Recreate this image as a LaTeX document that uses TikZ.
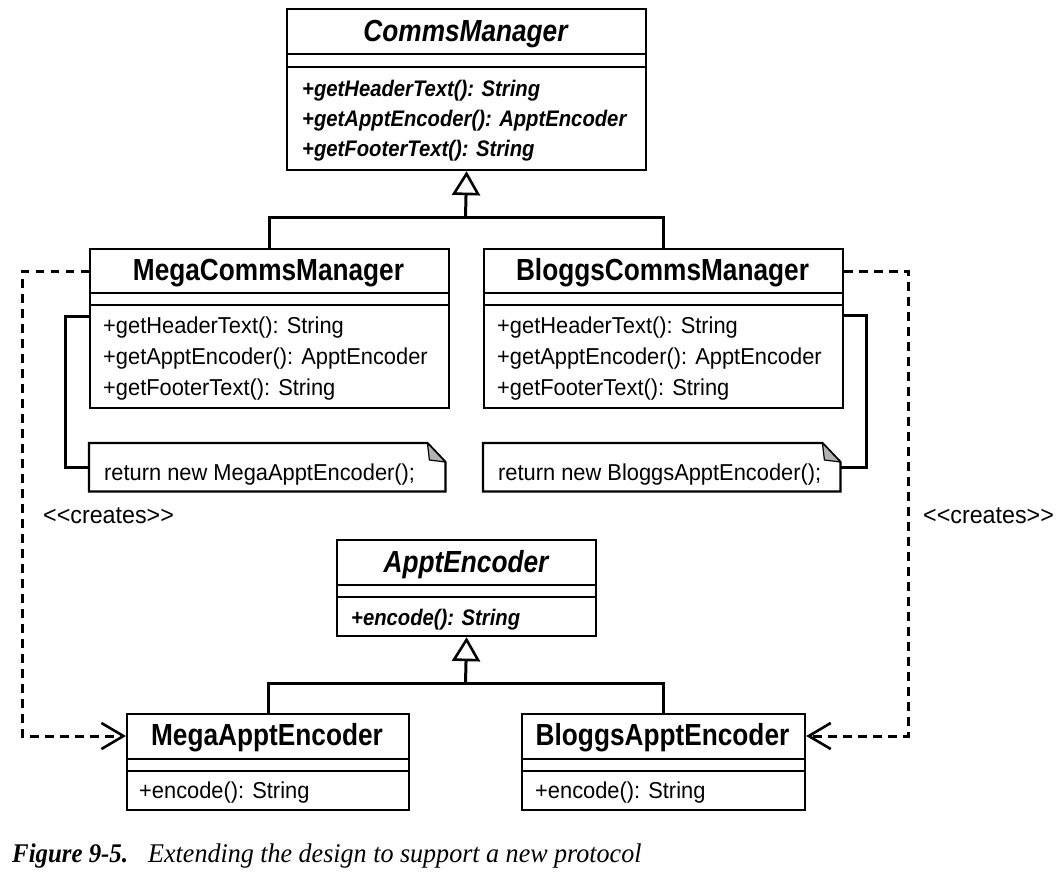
\documentclass[tikz,border=0pt]{standalone}
\usepackage{fontspec}
\setmainfont{Liberation Sans}
\newfontfamily\fr[FakeStretch=0.95]{Liberation Sans}
\newfontfamily\fb[FakeStretch=0.86]{Liberation Sans}
\newfontfamily\fbm[FakeStretch=0.9]{Liberation Sans}
\newfontfamily\fcap[FakeStretch=0.965]{Liberation Serif}
\newfontfamily\fcapb[FakeStretch=0.92]{Liberation Serif}
\usetikzlibrary{arrows.meta}
\begin{document}
\begin{tikzpicture}[x=1pt,y=-1pt,
  box/.style={draw, line width=2.2pt, rectangle, inner sep=0pt, anchor=north west, fill=white},
  notearea/.style={rectangle, inner sep=0pt, anchor=north west},
  divline/.style={line width=2.2pt},
  ttl/.style={font=\fb\bfseries\fontsize{30.5}{33}\selectfont, inner sep=0pt, anchor=base},
  absm/.style={font=\fbm\bfseries\itshape\fontsize{22.5}{26}\selectfont, inner sep=0pt, anchor=base west},
  meth/.style={font=\fr\fontsize{23}{26}\selectfont, inner sep=0pt, anchor=base west},
  conn/.style={line width=3pt},
  dep/.style={line width=3pt, dash pattern=on 8.5pt off 6.5pt, -{Straight Barb[length=22pt,width=26pt,line width=2.6pt]}},
  gen/.style={line width=3pt, -{Triangle[open,length=24pt,width=28pt,line width=2.6pt,fill=white]}},
  notefold/.style={fill=black!30, draw, line width=1.2pt, line join=round}
]
\fill[white] (0,0) rectangle (1062,880);
\useasboundingbox (0,0) rectangle (1062,880);

% ---------- CommsManager ----------
\node[box, minimum width=359pt, minimum height=161pt] (cm) at (286,8) {};
\draw[divline] ([yshift=-46pt]cm.north west) -- ([yshift=-46pt]cm.north east);
\draw[divline] ([yshift=-59pt]cm.north west) -- ([yshift=-59pt]cm.north east);
\node[ttl] (cmt) at (465.5,42) {\itshape CommsManager};
\node[absm] (cm1) at (302,97) {+getHeaderText(): String};
\node[absm] (cm2) at (302,127) {+getApptEncoder(): ApptEncoder};
\node[absm] (cm3) at (302,157) {+getFooterText(): String};

% ---------- MegaCommsManager ----------
\node[box, minimum width=359pt, minimum height=159pt] (mcm) at (89,248) {};
\draw[divline] ([yshift=-45pt]mcm.north west) -- ([yshift=-45pt]mcm.north east);
\draw[divline] ([yshift=-57pt]mcm.north west) -- ([yshift=-57pt]mcm.north east);
\node[ttl] (mcmt) at (268.5,280) {MegaCommsManager};
\node[meth] (mcm1) at (103,333) {+getHeaderText(): String};
\node[meth] (mcm2) at (103,364) {+getApptEncoder(): ApptEncoder};
\node[meth] (mcm3) at (103,395) {+getFooterText(): String};

% ---------- BloggsCommsManager ----------
\node[box, minimum width=359pt, minimum height=159pt] (bcm) at (483,248) {};
\draw[divline] ([yshift=-45pt]bcm.north west) -- ([yshift=-45pt]bcm.north east);
\draw[divline] ([yshift=-57pt]bcm.north west) -- ([yshift=-57pt]bcm.north east);
\node[ttl] (bcmt) at (662.5,280) {BloggsCommsManager};
\node[meth] (bcm1) at (497,333) {+getHeaderText(): String};
\node[meth] (bcm2) at (497,364) {+getApptEncoder(): ApptEncoder};
\node[meth] (bcm3) at (497,395) {+getFooterText(): String};

% ---------- Notes ----------
\node[notearea, minimum width=356pt, minimum height=48pt] (mn) at (89,443) {};
\draw[line width=2.2pt, fill=white, line join=miter] (mn.north west) -- ([xshift=-18pt]mn.north east) -- ([yshift=-19pt]mn.north east) -- (mn.south east) -- (mn.south west) -- cycle;
\draw[notefold] ([xshift=-18pt]mn.north east) -- ([xshift=-16pt,yshift=-17pt]mn.north east) -- ([yshift=-19pt]mn.north east) -- cycle;
\node[meth] (mnt) at (104,480) {return new MegaApptEncoder();};

\node[notearea, minimum width=357pt, minimum height=48pt] (bn) at (483,443) {};
\draw[line width=2.2pt, fill=white, line join=miter] (bn.north west) -- ([xshift=-18pt]bn.north east) -- ([yshift=-19pt]bn.north east) -- (bn.south east) -- (bn.south west) -- cycle;
\draw[notefold] ([xshift=-18pt]bn.north east) -- ([xshift=-16pt,yshift=-17pt]bn.north east) -- ([yshift=-19pt]bn.north east) -- cycle;
\node[meth] (bnt) at (498,480) {return new BloggsApptEncoder();};

% note connectors
\draw[conn] ([yshift=-68pt]mcm.north west) -| ([xshift=-24pt]mn.west) -- (mn.west);
\draw[conn] ([yshift=-67pt]bcm.north east) -| ([xshift=26pt]bn.east) -- (bn.east);

% ---------- ApptEncoder ----------
\node[box, minimum width=259pt, minimum height=96pt] (ae) at (336,539) {};
\draw[divline] ([yshift=-46pt]ae.north west) -- ([yshift=-46pt]ae.north east);
\draw[divline] ([yshift=-58pt]ae.north west) -- ([yshift=-58pt]ae.north east);
\node[ttl] (aet) at (466,572) {\itshape ApptEncoder};
\node[absm] (ae1) at (351,625) {+encode(): String};

% ---------- MegaApptEncoder ----------
\node[box, minimum width=282pt, minimum height=96pt] (mae) at (126,713) {};
\draw[divline] ([yshift=-46pt]mae.north west) -- ([yshift=-46pt]mae.north east);
\draw[divline] ([yshift=-58pt]mae.north west) -- ([yshift=-58pt]mae.north east);
\node[ttl] (maet) at (267,745) {MegaApptEncoder};
\node[meth] (mae1) at (139,798) {+encode(): String};

% ---------- BloggsApptEncoder ----------
\node[box, minimum width=283pt, minimum height=96pt] (bae) at (521,713) {};
\draw[divline] ([yshift=-46pt]bae.north west) -- ([yshift=-46pt]bae.north east);
\draw[divline] ([yshift=-58pt]bae.north west) -- ([yshift=-58pt]bae.north east);
\node[ttl] (baet) at (662.5,745) {BloggsApptEncoder};
\node[meth] (bae1) at (535,798) {+encode(): String};

% ---------- Generalizations ----------
\coordinate (j1) at (465.5,217);
\draw[conn] (mcm.north) |- (j1) -| (bcm.north);
\draw[gen] (j1) -- (cm.south);
\coordinate (j2) at (465.5,683);
\draw[conn] (mae.north) |- (j2) -| (bae.north);
\draw[gen] (j2) -- (ae.south);

% ---------- Dependencies ----------
\coordinate (cl) at (22,500);
\coordinate (cr) at (908,500);
\draw[dep] ([yshift=-23pt]mcm.north west) -| (cl) |- ([yshift=-23pt]mae.north west);
\draw[dep] ([yshift=-23pt]bcm.north east) -| (cr) |- ([yshift=-23pt]bae.north east);
\node[meth, anchor=west, font=\fr\fontsize{24.5}{26}\selectfont] (crl) at (43,516) {<{}<creates>{}>};
\node[meth, anchor=west, font=\fr\fontsize{24.5}{26}\selectfont] (crr) at (923,516) {<{}<creates>{}>};

% ---------- Caption ----------
\node[inner sep=0pt, anchor=base west, font=\fcapb\fontsize{27}{30}\selectfont\bfseries\itshape] (cap1) at (12,862) {Figure 9-5.};
\node[inner sep=0pt, anchor=base west, font=\fcap\fontsize{27}{30}\selectfont\itshape] (cap2) at (148,862) {Extending the design to support a new protocol};
\end{tikzpicture}
\end{document}
